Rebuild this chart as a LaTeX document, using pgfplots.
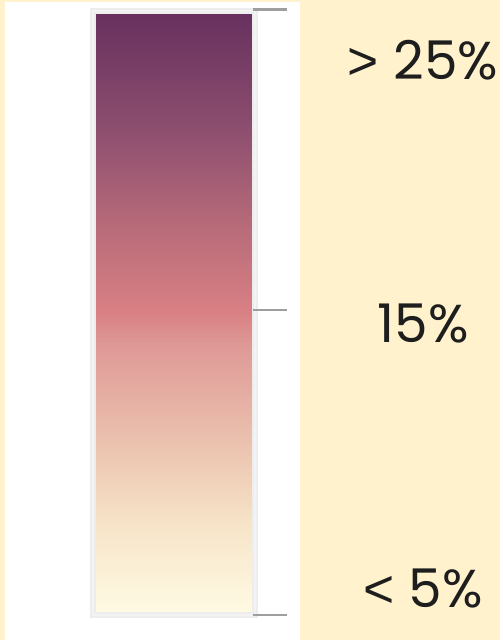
\documentclass[border=0pt]{standalone}
\usepackage{pgfplots}
\pgfplotsset{compat=1.18}
\usepackage{fontspec}
\setmainfont{Poppins}
\newfontfamily\symf{Liberation Sans}
\definecolor{creambg}{RGB}{255,242,204}
\definecolor{tickgray}{RGB}{158,158,158}
\definecolor{labelc}{RGB}{30,30,30}
\begin{document}
\begin{tikzpicture}
\fill[creambg] (0pt,0pt) rectangle (375pt,480pt);
\fill[white] (3.75pt,0pt) rectangle (225pt,478.5pt);
\begin{axis}[
  at={(69.75pt,18.75pt)}, anchor=south west,
  scale only axis, width=121.5pt, height=453pt,
  xmin=0, xmax=1, ymin=5, ymax=25, enlargelimits=false,
  xtick=\empty, ytick=\empty,
  axis line style={draw=none},
  clip=false,
  colormap={bar}{
    rgb255(0)=(255,251,228)
    rgb255(3)=(246,228,200)
    rgb255(6)=(234,190,172)
    rgb255(9)=(222,152,150)
    rgb255(10)=(217,128,132)
    rgb255(13)=(182,106,121)
    rgb255(16)=(142,79,111)
    rgb255(20)=(102,48,94)
  },
]
\addplot[surf, shader=interp, point meta=y] coordinates {
(0,5) (1,5)

(0,25) (1,25)
};
\draw[black!7, line width=4.5pt] (rel axis cs:0,0) rectangle (rel axis cs:1,1);
\draw[white, line width=1.6pt, opacity=0.35] (rel axis cs:0,0) rectangle (rel axis cs:1,1);
\addplot[tickgray, line width=2.2pt, forget plot] coordinates {(0.985,25.05) (1.198,25.05)};
\addplot[tickgray, line width=2.2pt, forget plot] coordinates {(0.985,15.1) (1.198,15.1)};
\addplot[tickgray, line width=2.2pt, forget plot] coordinates {(0.985,5) (1.198,5)};
\end{axis}
\node[anchor=base, text=labelc, font=\fontsize{40}{48}\selectfont] at (317.25pt,420pt) {{\symf >} 25\%};
\node[anchor=base, text=labelc, font=\fontsize{40}{48}\selectfont] at (317.25pt,222.75pt) {15\%};
\node[anchor=base, text=labelc, font=\fontsize{40}{48}\selectfont] at (317.25pt,24pt) {{\symf <} 5\%};
\end{tikzpicture}
\end{document}
